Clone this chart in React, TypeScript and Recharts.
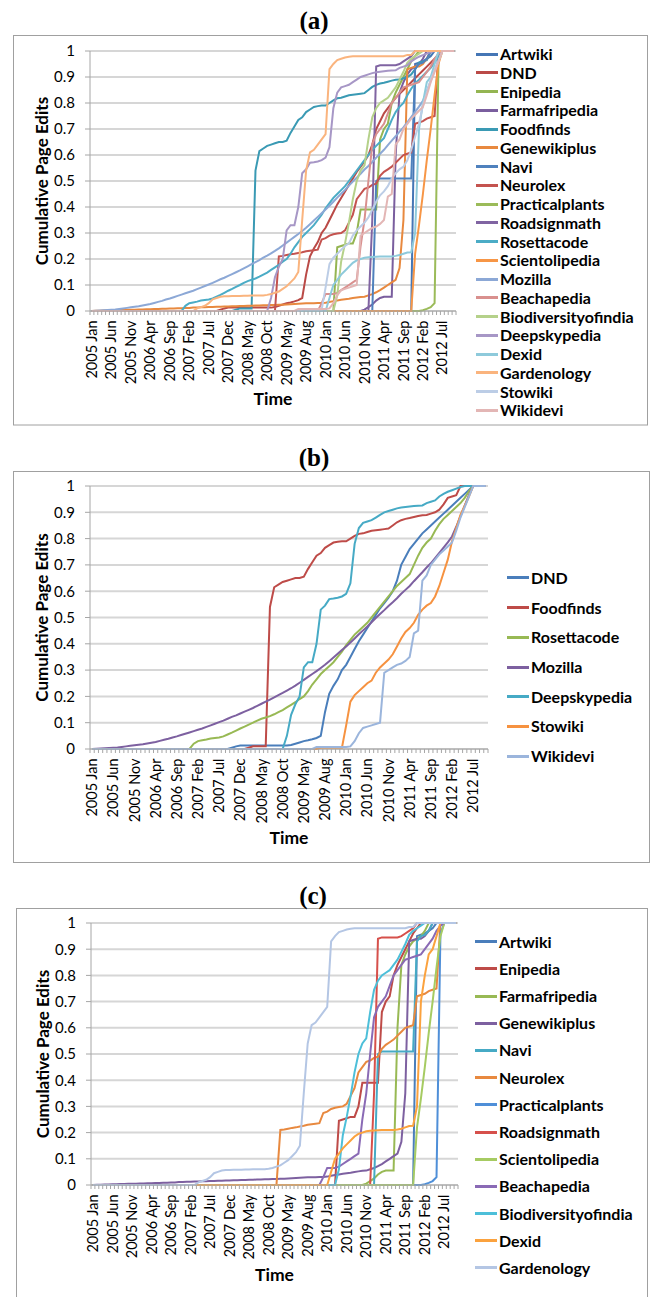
import React from 'react';
import { LineChart, Line, XAxis, YAxis, CartesianGrid, Legend } from 'recharts';

// ---------- categories & tick labels ----------
const tickLabels = [
  '2005 Jan', '2005 Jun', '2005 Nov', '2006 Apr', '2006 Sep', '2007 Feb', '2007 Jul',
  '2007 Dec', '2008 May', '2008 Oct', '2009 May', '2009 Aug', '2010 Jan', '2010 Jun',
  '2010 Nov', '2011 Apr', '2011 Sep', '2012 Feb', '2012 Jul',
];
const categories = Array.from({ length: 94 }, (_, i) => i);
const labelStep = 5;
const yTicks = [0, 0.1, 0.2, 0.3, 0.4, 0.5, 0.6, 0.7, 0.8, 0.9, 1];
const yTickLabels = ['0', '0.1', '0.2', '0.3', '0.4', '0.5', '0.6', '0.7', '0.8', '0.9', '1'];

// ---------- series values (one value per category) ----------
const artwiki = [
  0,0,0,0,0,0,0,0,0,0, 0,0,0,0,0,0,0,0,0,0, 0,0,0,0,0,0,0,0,0,0,
  0,0,0,0,0,0,0,0,0,0, 0,0,0,0,0,0,0,0,0,0, 0,0,0,0,0,0,0,0,0,0,
  0,0,0,0,0,0,0,0,0,0, 0,0,0,0,0,0,0,0,0,0,
  0,0,0,0.95,0.955,0.96,0.97,0.98,1,1, 1,1,1,1,
];
const dnd = [
  0,0,0,0,0,0,0,0,0,0, 0,0,0,0,0,0,0,0,0,0, 0,0,0,0,0,0,0,0,0,0,
  0,0,0,0.005,0.01,0.013,0.013,0.013,0.013,0.013,
  0.013,0.013,0.013,0.013,0.013,0.013,0.013,0.015,0.02,0.025,
  0.03,0.033,0.037,0.042,0.05,0.14,0.21,0.24,0.265,0.3,
  0.32,0.35,0.38,0.41,0.435,0.46,0.485,0.51,0.535,0.555,
  0.575,0.6,0.64,0.7,0.73,0.76,0.78,0.8,0.82,0.835,
  0.85,0.865,0.88,0.895,0.91,0.925,0.94,0.955,0.97,0.985, 1,1,1,1,
];
const enipedia = [
  0,0,0,0,0,0,0,0,0,0, 0,0,0,0,0,0,0,0,0,0, 0,0,0,0,0,0,0,0,0,0,
  0,0,0,0,0,0,0,0,0,0, 0,0,0,0,0,0,0,0,0,0, 0,0,0,0,0,0,0,0,0,0,
  0,0,0,0.245,0.25,0.255,0.26,0.26,0.3,0.39,
  0.39,0.39,0.39,0.39,0.66,0.7,0.72,0.8,0.84,0.87,
  0.9,0.93,0.96,0.98,1,1,1,1,1,1, 1,1,1,1,
];
const farmafripedia = [
  0,0,0,0,0,0,0,0,0,0, 0,0,0,0,0,0,0,0,0,0, 0,0,0,0,0,0,0,0,0,0,
  0,0,0,0,0,0,0,0,0,0, 0,0,0,0,0,0,0,0,0,0, 0,0,0,0,0,0,0,0,0,0,
  0,0,0,0,0,0,0,0,0,0,
  0.005,0.015,0.025,0.04,0.05,0.055,0.055,0.055,0.6,0.84,
  0.88,0.91,0.93,0.94,0.95,0.97,1,1,1,1, 1,1,1,1,
];
const foodfinds = [
  0,0,0,0,0,0,0,0,0,0, 0,0,0,0,0,0,0,0,0,0, 0,0,0,0,0,0,0,0,0,0,
  0,0,0,0,0,0,0,0.005,0.01,0.01,
  0.01,0.01,0.54,0.615,0.625,0.635,0.64,0.645,0.65,0.65,
  0.655,0.685,0.71,0.735,0.745,0.765,0.775,0.785,0.788,0.79,
  0.79,0.8,0.81,0.818,0.82,0.825,0.83,0.832,0.834,0.836,
  0.838,0.85,0.862,0.87,0.875,0.878,0.882,0.886,0.889,0.89,
  0.895,0.9,0.91,0.93,0.955,0.96,0.965,1,1,1, 1,1,1,1,
];
const genewikiplus = [
  0,0.001,0.001,0.002,0.002,0.003,0.003,0.004,0.004,0.005,
  0.005,0.005,0.006,0.006,0.007,0.007,0.008,0.008,0.009,0.009,
  0.01,0.01,0.011,0.011,0.012,0.012,0.013,0.013,0.014,0.014,
  0.015,0.015,0.016,0.016,0.017,0.017,0.018,0.018,0.019,0.019,
  0.02,0.02,0.021,0.021,0.022,0.022,0.023,0.023,0.024,0.024,
  0.025,0.026,0.027,0.028,0.029,0.03,0.03,0.03,0.031,0.031,
  0.032,0.035,0.038,0.04,0.043,0.045,0.047,0.05,0.052,0.054,
  0.055,0.06,0.065,0.072,0.08,0.09,0.1,0.11,0.12,0.165,
  0.35,0.93,0.935,0.94,0.94,0.95,0.97,1,1,1, 1,1,1,1,
];
const navi = [
  0,0,0,0,0,0,0,0,0,0, 0,0,0,0,0,0,0,0,0,0, 0,0,0,0,0,0,0,0,0,0,
  0,0,0,0,0,0,0,0,0,0, 0,0,0,0,0,0,0,0,0,0, 0,0,0,0,0,0,0,0,0,0,
  0,0,0,0,0,0,0,0,0,0,
  0,0,0,0.5,0.51,0.51,0.51,0.51,0.51,0.51,
  0.51,0.51,0.51,0.93,0.95,0.955,0.97,1,1,1, 1,1,1,1,
];
const neurolex = [
  0,0,0,0,0,0,0,0,0,0, 0,0,0,0,0,0,0,0,0,0, 0,0,0,0,0,0,0,0,0,0,
  0,0,0,0,0,0,0,0,0,0,
  0,0,0,0,0,0,0,0,0.21,0.212,
  0.215,0.218,0.22,0.223,0.226,0.23,0.232,0.234,0.236,0.275,
  0.28,0.29,0.295,0.298,0.3,0.31,0.34,0.37,0.43,0.45,
  0.47,0.475,0.485,0.49,0.52,0.535,0.545,0.555,0.57,0.585,
  0.6,0.605,0.61,0.72,0.725,0.73,0.74,0.745,0.75,1, 1,1,1,1,
];
const practicalplants = [
  0,0,0,0,0,0,0,0,0,0, 0,0,0,0,0,0,0,0,0,0, 0,0,0,0,0,0,0,0,0,0,
  0,0,0,0,0,0,0,0,0,0, 0,0,0,0,0,0,0,0,0,0, 0,0,0,0,0,0,0,0,0,0,
  0,0,0,0,0,0,0,0,0,0, 0,0,0,0,0,0,0,0,0,0,
  0,0,0,0,0,0.003,0.008,0.015,0.03,0.96, 1,1,1,1,
];
const roadsignmath = [
  0,0,0,0,0,0,0,0,0,0, 0,0,0,0,0,0,0,0,0,0, 0,0,0,0,0,0,0,0,0,0,
  0,0,0,0,0,0,0,0,0,0, 0,0,0,0,0,0,0,0,0,0, 0,0,0,0,0,0,0,0,0,0,
  0,0,0,0,0,0,0,0,0,0,
  0,0,0.35,0.94,0.945,0.945,0.945,0.945,0.945,0.95,
  0.96,0.97,0.98,1,1,1,1,1,1,1, 1,1,1,1,
];
const rosettacode = [
  0,0,0,0,0,0,0,0,0,0, 0,0,0,0,0,0,0,0,0,0,
  0,0,0,0,0.02,0.03,0.033,0.036,0.04,0.042,
  0.044,0.048,0.055,0.062,0.07,0.078,0.085,0.093,0.1,0.108,
  0.115,0.12,0.125,0.132,0.14,0.148,0.158,0.168,0.178,0.19,
  0.2,0.22,0.245,0.265,0.285,0.3,0.315,0.33,0.35,0.37,
  0.395,0.415,0.435,0.45,0.465,0.48,0.5,0.52,0.54,0.56,
  0.58,0.6,0.62,0.635,0.65,0.665,0.7,0.735,0.765,0.785,
  0.8,0.83,0.855,0.875,0.89,0.905,0.92,0.935,0.955,0.98, 1,1,1,1,
];
const scientolipedia = [
  0,0,0,0,0,0,0,0,0,0, 0,0,0,0,0,0,0,0,0,0, 0,0,0,0,0,0,0,0,0,0,
  0,0,0,0,0,0,0,0,0,0, 0,0,0,0,0,0,0,0,0,0, 0,0,0,0,0,0,0,0,0,0,
  0,0,0,0,0,0,0,0,0,0, 0,0,0,0,0,0,0,0,0,0,
  0,0,0,0.22,0.33,0.45,0.58,0.7,0.83,0.95, 1,1,1,1,
];
const mozilla = [
  0,0.001,0.002,0.003,0.004,0.005,0.006,0.008,0.01,0.012,
  0.014,0.016,0.018,0.021,0.024,0.027,0.031,0.035,0.039,0.044,
  0.048,0.053,0.058,0.063,0.068,0.073,0.078,0.084,0.09,0.096,
  0.102,0.108,0.115,0.122,0.128,0.135,0.142,0.149,0.156,0.164,
  0.172,0.18,0.188,0.196,0.205,0.213,0.222,0.231,0.241,0.252,
  0.263,0.274,0.285,0.296,0.308,0.32,0.334,0.348,0.362,0.376,
  0.39,0.405,0.42,0.436,0.451,0.466,0.482,0.498,0.513,0.528,
  0.544,0.558,0.573,0.59,0.605,0.62,0.638,0.655,0.672,0.69,
  0.706,0.726,0.746,0.766,0.786,0.808,0.845,0.885,0.925,0.965, 1,1,1,1,
];
const beachapedia = [
  0,0,0,0,0,0,0,0,0,0, 0,0,0,0,0,0,0,0,0,0, 0,0,0,0,0,0,0,0,0,0,
  0,0,0,0,0,0,0,0,0,0, 0,0,0,0,0,0,0,0,0,0,
  0,0,0,0,0,0,0,0,0,0.03,
  0.065,0.065,0.065,0.07,0.08,0.09,0.1,0.11,0.12,0.25,
  0.35,0.5,0.64,0.68,0.7,0.72,0.76,0.8,0.82,0.84,
  0.86,0.865,0.87,0.875,0.88,0.9,0.92,0.94,0.97,0.99, 1,1,1,1,
];
const biodiversityofindia = [
  0,0,0,0,0,0,0,0,0,0, 0,0,0,0,0,0,0,0,0,0, 0,0,0,0,0,0,0,0,0,0,
  0,0,0,0,0,0,0,0,0,0, 0,0,0,0,0,0,0,0,0,0, 0,0,0,0,0,0,0,0,0,0,
  0,0,0,0.06,0.19,0.26,0.34,0.43,0.5,0.54,
  0.56,0.66,0.745,0.78,0.8,0.81,0.82,0.84,0.86,0.89,
  0.92,0.955,0.97,0.98,0.99,1,1,1,1,1, 1,1,1,1,
];
const deepskypedia = [
  0,0,0,0,0,0,0,0,0,0, 0,0,0,0,0,0,0,0,0,0, 0,0,0,0,0,0,0,0,0,0,
  0,0,0,0,0,0,0,0,0,0,
  0,0,0,0,0,0,0.05,0.13,0.17,0.2,
  0.31,0.33,0.33,0.4,0.53,0.545,0.57,0.572,0.575,0.58,
  0.59,0.63,0.78,0.84,0.86,0.865,0.87,0.88,0.89,0.9,
  0.905,0.91,0.915,0.918,0.92,0.922,0.924,0.925,0.926,0.935,
  0.94,0.945,0.96,0.97,0.978,0.984,0.99,0.996,1,1, 1,1,1,1,
];
const dexid = [
  0,0,0,0,0,0,0,0,0,0, 0,0,0,0,0,0,0,0,0,0, 0,0,0,0,0,0,0,0,0,0,
  0,0,0,0,0,0,0,0,0,0, 0,0,0,0,0,0,0,0,0,0, 0,0,0,0,0,0,0,0,0,0,
  0,0.05,0.1,0.12,0.14,0.155,0.17,0.185,0.195,0.2,
  0.205,0.207,0.208,0.209,0.21,0.21,0.21,0.21,0.212,0.215,
  0.22,0.225,0.226,0.3,0.7,0.8,0.88,0.9,0.95,1, 1,1,1,1,
];
const gardenology = [
  0,0,0,0,0,0,0,0,0,0, 0,0,0,0,0,0,0,0,0,0,
  0,0,0,0,0,0,0,0.01,0.015,0.02,
  0.03,0.045,0.05,0.055,0.057,0.057,0.058,0.058,0.058,0.059,
  0.059,0.06,0.06,0.06,0.06,0.062,0.065,0.07,0.075,0.085,
  0.095,0.11,0.125,0.15,0.35,0.54,0.61,0.62,0.64,0.66,
  0.68,0.93,0.95,0.965,0.97,0.975,0.978,0.98,0.98,0.98,
  0.98,0.98,0.98,0.98,0.98,0.98,0.98,0.98,0.98,0.98,
  0.98,0.985,0.985,1,1,1,1,1,1,1, 1,1,1,1,
];
const stowiki = [
  0,0,0,0,0,0,0,0,0,0, 0,0,0,0,0,0,0,0,0,0, 0,0,0,0,0,0,0,0,0,0,
  0,0,0,0,0,0,0,0,0,0, 0,0,0,0,0,0,0,0,0,0,
  0,0,0,0,0.005,0.005,0.005,0.005,0.005,0.005,
  0.09,0.18,0.205,0.22,0.235,0.25,0.26,0.29,0.31,0.325,
  0.34,0.36,0.39,0.42,0.445,0.46,0.48,0.51,0.53,0.545,
  0.555,0.58,0.62,0.67,0.72,0.79,0.84,0.89,0.925,0.96, 1,1,1,1,
];
const wikidevi = [
  0,0,0,0,0,0,0,0,0,0, 0,0,0,0,0,0,0,0,0,0, 0,0,0,0,0,0,0,0,0,0,
  0,0,0,0,0,0,0,0,0,0, 0,0,0,0,0,0,0,0,0,0,
  0,0,0,0.008,0.008,0.008,0.008,0.008,0.008,0.008,
  0.008,0.01,0.03,0.06,0.08,0.085,0.09,0.095,0.1,0.29,
  0.3,0.31,0.32,0.325,0.335,0.35,0.44,0.45,0.64,0.66,
  0.7,0.72,0.74,0.755,0.77,0.785,0.83,0.88,0.92,0.96, 1,1,1,1,
];

const seriesValues: Record<string, number[]> = {
  Artwiki: artwiki, DND: dnd, Enipedia: enipedia, Farmafripedia: farmafripedia,
  Foodfinds: foodfinds, Genewikiplus: genewikiplus, Navi: navi, Neurolex: neurolex,
  Practicalplants: practicalplants, Roadsignmath: roadsignmath, Rosettacode: rosettacode,
  Scientolipedia: scientolipedia, Mozilla: mozilla, Beachapedia: beachapedia,
  Biodiversityofindia: biodiversityofindia, Deepskypedia: deepskypedia, Dexid: dexid,
  Gardenology: gardenology, Stowiki: stowiki, Wikidevi: wikidevi,
};

const data = categories.map((i) => {
  const row: Record<string, number> = { idx: i };
  Object.keys(seriesValues).forEach((k) => { row[k] = seriesValues[k][i]; });
  return row;
});

// ---------- panel series lists ----------
type S = { name: string; color: string };
const panelASeries: S[] = [
  { name: 'Artwiki', color: '#4576B5' },
  { name: 'DND', color: '#BA4A47' },
  { name: 'Enipedia', color: '#94B552' },
  { name: 'Farmafripedia', color: '#7A5E9E' },
  { name: 'Foodfinds', color: '#3A9AB4' },
  { name: 'Genewikiplus', color: '#E8893F' },
  { name: 'Navi', color: '#4F81BD' },
  { name: 'Neurolex', color: '#C4534F' },
  { name: 'Practicalplants', color: '#9BBB59' },
  { name: 'Roadsignmath', color: '#8064A2' },
  { name: 'Rosettacode', color: '#4BACC6' },
  { name: 'Scientolipedia', color: '#F79646' },
  { name: 'Mozilla', color: '#8CA8D6' },
  { name: 'Beachapedia', color: '#D9908E' },
  { name: 'Biodiversityofindia', color: '#B5D18A' },
  { name: 'Deepskypedia', color: '#A797C6' },
  { name: 'Dexid', color: '#8ECADB' },
  { name: 'Gardenology', color: '#FAB47E' },
  { name: 'Stowiki', color: '#BCCDE6' },
  { name: 'Wikidevi', color: '#E3B6B5' },
];
const panelBSeries: S[] = [
  { name: 'DND', color: '#4A7EBB' },
  { name: 'Foodfinds', color: '#BE4B48' },
  { name: 'Rosettacode', color: '#98B954' },
  { name: 'Mozilla', color: '#7D60A0' },
  { name: 'Deepskypedia', color: '#46AAC5' },
  { name: 'Stowiki', color: '#F69240' },
  { name: 'Wikidevi', color: '#9BB5DC' },
];
const panelCSeries: S[] = [
  { name: 'Artwiki', color: '#4A7EBB' },
  { name: 'Enipedia', color: '#BE4B48' },
  { name: 'Farmafripedia', color: '#98B954' },
  { name: 'Genewikiplus', color: '#7D60A0' },
  { name: 'Navi', color: '#46AAC5' },
  { name: 'Neurolex', color: '#E8893F' },
  { name: 'Practicalplants', color: '#4F8FD8' },
  { name: 'Roadsignmath', color: '#D6504B' },
  { name: 'Scientolipedia', color: '#A6CB62' },
  { name: 'Beachapedia', color: '#8A6AB5' },
  { name: 'Biodiversityofindia', color: '#4DBFD9' },
  { name: 'Dexid', color: '#FBA23E' },
  { name: 'Gardenology', color: '#B4C6E4' },
];

// ---------- x ticks: labels every 5 categories, minor marks at boundaries ----------
const labelTicks = tickLabels.map((_, k) => k * labelStep);
const boundaryTicks = categories.map((i) => i - 0.5).concat([categories.length - 0.5]);
const xTicks = [...labelTicks, ...boundaryTicks].sort((a, b) => a - b);

const FONT = 'Lato, "Open Sans", sans-serif';
const AXIS_GRAY = '#A6A6A6';

const makeXTick = (labelGap: number) => (props: any) => {
  const { x, y, payload } = props;
  const v = payload.value as number;
  if (Number.isInteger(v)) {
    return (
      <text
        transform={`translate(${x},${y + labelGap}) rotate(-90)`}
        textAnchor="end"
        dy="0.35em"
        fontSize={14.5}
        fontFamily={FONT}
        fill="#000"
      >
        {tickLabels[v / labelStep]}
      </text>
    );
  }
  return <line x1={x} x2={x} y1={y} y2={y + 4} stroke={AXIS_GRAY} strokeWidth={1} />;
};

type PanelProps = {
  top: number;
  height: number;
  plot: { left: number; right: number; top: number; bottom: number };
  series: S[];
  legendX: number;
  legendY: number;
  legendGap: number;
  timeOffset: number;
  yLabelOffset: number;
};

const XAXIS_H = 100;
const YAXIS_W = 50;

function Panel({ top, height, plot, series, legendX, legendY, legendGap, timeOffset, yLabelOffset }: PanelProps) {
  const renderLegend = () => (
    <div>
      {series.map((s) => (
        <div key={s.name} style={{ height: legendGap, display: 'flex', alignItems: 'center' }}>
          <span style={{ display: 'inline-block', width: 22, height: 3, background: s.color, marginRight: 2 }} />
          <span style={{ fontFamily: FONT, fontWeight: 700, fontSize: 16, color: '#000', lineHeight: 1, whiteSpace: 'nowrap' }}>
            {s.name}
          </span>
        </div>
      ))}
    </div>
  );
  return (
    <div style={{ position: 'absolute', left: 0, top, width: 654, height }}>
      <LineChart
        width={654}
        height={height}
        data={data}
        margin={{
          top: plot.top - top,
          right: 654 - plot.right,
          bottom: height - (plot.bottom - top) - XAXIS_H,
          left: plot.left - YAXIS_W,
        }}
      >
        <CartesianGrid vertical={false} stroke="#D6D6D6" strokeWidth={2} />
        <XAxis
          type="number"
          dataKey="idx"
          domain={[-0.5, categories.length - 0.5]}
          ticks={xTicks}
          interval={0}
          tick={makeXTick(9.5)}
          tickLine={false}
          tickSize={0}
          tickMargin={0}
          height={XAXIS_H}
          axisLine={{ stroke: AXIS_GRAY }}
          label={{
            value: 'Time',
            position: 'insideBottom',
            offset: timeOffset,
            style: { fontFamily: FONT, fontWeight: 700, fontSize: 17.5, fill: '#000' },
          }}
        />
        <YAxis
          type="number"
          domain={[0, 1]}
          ticks={yTicks}
          interval={0}
          width={YAXIS_W}
          tickSize={5}
          tickMargin={10}
          tickFormatter={(v: number) => yTickLabels[yTicks.indexOf(v)] ?? String(v)}
          tick={{ fontSize: 15, fontFamily: FONT, fill: '#000' }}
          axisLine={{ stroke: AXIS_GRAY }}
          tickLine={{ stroke: AXIS_GRAY }}
          label={{
            value: 'Cumulative Page Edits',
            angle: -90,
            position: 'insideLeft',
            offset: yLabelOffset,
            style: { textAnchor: 'middle', fontFamily: FONT, fontWeight: 700, fontSize: 17, fill: '#000' },
          }}
        />
        <Legend
          layout="vertical"
          align="center"
          verticalAlign="middle"
          content={renderLegend}
          wrapperStyle={{ left: legendX, top: legendY - top - legendGap / 2, width: 175 }}
        />
        {series.map((s) => (
          <Line
            key={s.name}
            type="linear"
            dataKey={s.name}
            stroke={s.color}
            strokeWidth={2}
            dot={false}
            activeDot={false}
            isAnimationActive={false}
          />
        ))}
      </LineChart>
    </div>
  );
}

export default function App() {
  const titleStyle = { fontFamily: '"Liberation Serif", "Times New Roman", serif', fontWeight: 700, fontSize: 25 } as const;
  return (
    <div style={{ position: 'absolute', left: 0, top: 0, width: 654, height: 1297, overflow: 'hidden', background: '#fff' }}>
      <svg width={654} height={1297} style={{ position: 'absolute', left: 0, top: 0 }}>
        <rect x={13.5} y={35.5} width={634} height={389.5} fill="none" stroke="#A0A0A0" />
        <rect x={13.5} y={471.5} width={636} height={391} fill="none" stroke="#A0A0A0" />
        <rect x={16.5} y={908.5} width={631} height={420} fill="none" stroke="#A0A0A0" />
        <text x={314} y={29} textAnchor="middle" style={titleStyle}>(a)</text>
        <text x={314} y={466} textAnchor="middle" style={titleStyle}>(b)</text>
        <text x={313} y={904} textAnchor="middle" style={titleStyle}>(c)</text>
      </svg>
      <Panel
        top={0}
        height={430}
        plot={{ left: 90, right: 456, top: 51, bottom: 311 }}
        series={panelASeries}
        legendX={476}
        legendY={54}
        legendGap={18.75}
        timeOffset={6}
        yLabelOffset={2}
      />
      <Panel
        top={440}
        height={430}
        plot={{ left: 90, right: 488, top: 486, bottom: 749 }}
        series={panelBSeries}
        legendX={507}
        legendY={578}
        legendGap={29.7}
        timeOffset={5}
        yLabelOffset={2}
      />
      <Panel
        top={880}
        height={417}
        plot={{ left: 91, right: 458, top: 923, bottom: 1185 }}
        series={panelCSeries}
        legendX={475}
        legendY={941.7}
        legendGap={27.2}
        timeOffset={4}
        yLabelOffset={2}
      />
    </div>
  );
}
